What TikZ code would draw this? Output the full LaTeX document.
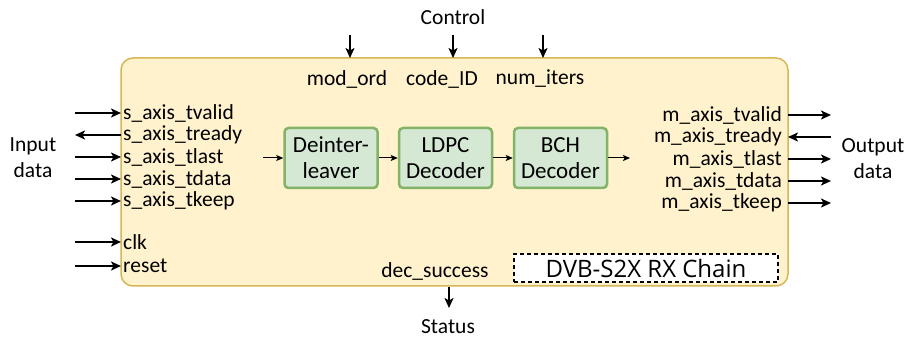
\documentclass[tikz,border=0pt]{standalone}
\usepackage{fontspec}
\setmainfont{Carlito}
\newfontfamily\labelfont{Open Sans}
\usetikzlibrary{arrows.meta}
\definecolor{boxfill}{HTML}{FFF2CC}
\definecolor{boxline}{HTML}{D6B656}
\definecolor{blkfill}{HTML}{D5E8D4}
\definecolor{blkline}{HTML}{82B366}
\tikzset{
  sig/.style={line width=2pt,-{Stealth[length=10pt,width=9pt,inset=2.5pt]}},
  flow/.style={line width=1pt,-{Stealth[length=7pt,width=6pt,inset=1.5pt]}},
  port/.style={font=\fontsize{21.5}{22}\selectfont,inner sep=0pt},
  outer/.style={font=\fontsize{21.5}{26}\selectfont,inner sep=0pt,align=center},
  blk/.style={draw=blkline,fill=blkfill,line width=2.5pt,rounded corners=4pt,
    minimum width=93pt,minimum height=60pt,align=center,
    font=\fontsize{23}{26}\selectfont,inner sep=0pt}
}
\begin{document}
\begin{tikzpicture}[x=1pt,y=-1pt]
\useasboundingbox (0,0) rectangle (908,339);
% module body
\draw[boxline,fill=boxfill,line width=1.5pt,rounded corners=12pt] (121,58) rectangle (788,286);
% input stream ports
\node[port,anchor=west] (iv) at (123,113) {s\_axis\_tvalid};
\node[port,anchor=west] (ir) at (123,135) {s\_axis\_tready};
\node[port,anchor=west] (il) at (123,157) {s\_axis\_tlast};
\node[port,anchor=west] (id) at (123,179) {s\_axis\_tdata};
\node[port,anchor=west] (ik) at (123,201) {s\_axis\_tkeep};
\node[port,anchor=west] (clk) at (123,242) {clk};
\node[port,anchor=west] (rst) at (123,266) {reset};
\coordinate (ivs) at (75,113);  \coordinate (ivp) at (121,113);
\coordinate (irs) at (75,135);  \coordinate (irp) at (121,135);
\coordinate (ils) at (75,157);  \coordinate (ilp) at (121,157);
\coordinate (ids) at (75,179);  \coordinate (idp) at (121,179);
\coordinate (iks) at (75,201);  \coordinate (ikp) at (121,201);
\coordinate (clks) at (75,242); \coordinate (clkp) at (121,242);
\coordinate (rsts) at (75,266); \coordinate (rstp) at (121,266);
\draw[sig] (ivs) -- (ivp);
\draw[sig] (irp) -- (irs);
\draw[sig] (ils) -- (ilp);
\draw[sig] (ids) -- (idp);
\draw[sig] (iks) -- (ikp);
\draw[sig] (clks) -- (clkp);
\draw[sig] (rsts) -- (rstp);
\node[outer] (indata) at (33,158) {Input\\data};
% output stream ports
\node[port,anchor=east] (ov) at (782,115) {m\_axis\_tvalid};
\node[port,anchor=east] (or) at (782,137) {m\_axis\_tready};
\node[port,anchor=east] (ol) at (782,159) {m\_axis\_tlast};
\node[port,anchor=east] (od) at (782,181) {m\_axis\_tdata};
\node[port,anchor=east] (ok) at (782,203) {m\_axis\_tkeep};
\coordinate (ovp) at (788,115); \coordinate (ovd) at (831,115);
\coordinate (orp) at (788,137); \coordinate (ord) at (831,137);
\coordinate (olp) at (788,159); \coordinate (old) at (831,159);
\coordinate (odp) at (788,181); \coordinate (odd) at (831,181);
\coordinate (okp) at (788,203); \coordinate (okd) at (831,203);
\draw[sig] (ovp) -- (ovd);
\draw[sig] (ord) -- (orp);
\draw[sig] (olp) -- (old);
\draw[sig] (odp) -- (odd);
\draw[sig] (okp) -- (okd);
\node[outer] (outdata) at (873,159) {Output\\data};
% control ports
\node[outer] (ctrl) at (453,17) {Control};
\coordinate (mos) at (350,35); \coordinate (mop) at (350,58);
\coordinate (cis) at (453,35); \coordinate (cip) at (453,58);
\coordinate (nis) at (543,35); \coordinate (nip) at (543,58);
\draw[sig] (mos) -- (mop);
\draw[sig] (cis) -- (cip);
\draw[sig] (nis) -- (nip);
\node[port] (mo) at (347,79) {mod\_ord};
\node[port] (ci) at (442,79) {code\_ID};
\node[port] (ni) at (540,79) {num\_iters};
% status port
\node[port] (ds) at (435,271) {dec\_success};
\coordinate (dsp) at (449,287);
\coordinate (dsd) at (449,308);
\draw[sig] (dsp) -- (dsd);
\node[outer] (status) at (448,327) {Status};
% processing chain
\node[blk] (dil) at (331,158) {Deinter-\\leaver};
\node[blk] (ldpc) at (445.5,158) {LDPC\\Decoder};
\node[blk] (bch) at (560.5,158) {BCH\\Decoder};
\coordinate (chin) at (263,158);
\coordinate (chout) at (630,158);
\draw[flow] (chin) -- (dil);
\draw[flow] (dil) -- (ldpc);
\draw[flow] (ldpc) -- (bch);
\draw[flow] (bch) -- (chout);
% title tag
\node[draw,dash pattern=on 4pt off 3pt,line width=1.2pt,fill=white,minimum width=264pt,minimum height=28pt,
  inner sep=0pt,font=\labelfont\fontsize{24}{26}\selectfont] (title) at (646,268) {DVB-S2X RX Chain};
\end{tikzpicture}
\end{document}
